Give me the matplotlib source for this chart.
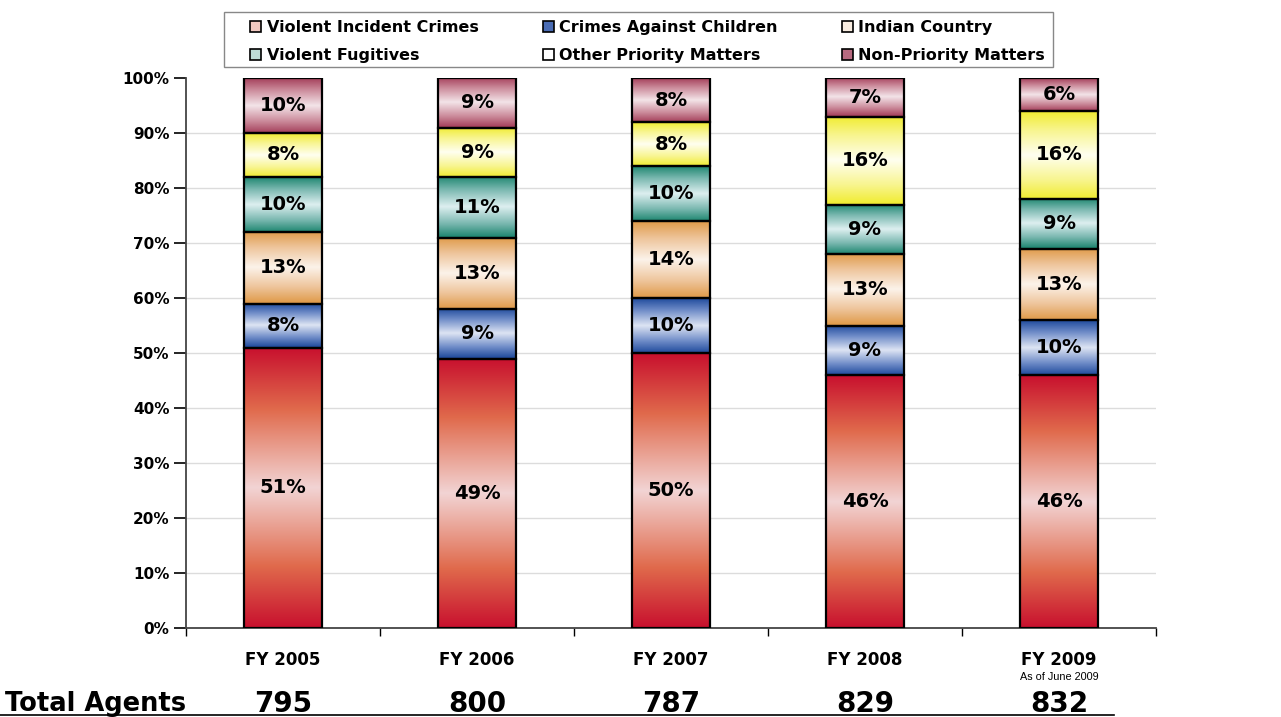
import numpy as np
import matplotlib
matplotlib.use('Agg')
import matplotlib.pyplot as plt
from matplotlib.colors import LinearSegmentedColormap
from matplotlib.patches import Patch, Rectangle
from matplotlib.lines import Line2D
from matplotlib.transforms import blended_transform_factory

years = ['FY 2005', 'FY 2006', 'FY 2007', 'FY 2008', 'FY 2009']
subtitles = ['', '', '', '', 'As of June 2009']
total_agents = [795, 800, 787, 829, 832]
series = ['Violent Incident Crimes', 'Crimes Against Children', 'Indian Country',
          'Violent Fugitives', 'Other Priority Matters', 'Non-Priority Matters']
violent_incident = [51, 49, 50, 46, 46]
crimes_children = [8, 9, 10, 9, 10]
indian_country = [13, 13, 14, 13, 13]
violent_fugitives = [10, 11, 10, 9, 9]
other_priority = [8, 9, 8, 16, 16]
non_priority = [10, 9, 8, 7, 6]
values = [violent_incident, crimes_children, indian_country,
          violent_fugitives, other_priority, non_priority]

# gradient stops: edge, mid, center
grad = [
    ('#c8102e', '#e06a4c', '#f2d4d4'),
    ('#1f4a9c', '#6f8cc8', '#dde4f3'),
    ('#df9a48', '#eec49a', '#fcf3ea'),
    ('#1e8670', '#7ab8b0', '#ddeff0'),
    ('#f0ec30', '#f8f590', '#fffff0'),
    ('#a43f5a', '#cc8c9c', '#f3e4e8'),
]
legend_face = ['#f0c8c0', '#4a6cb4', '#f8ece0', '#bcdcd6', '#ffffff', '#b86a80']

FONT = 'DejaVu Sans'
W, H = 1281, 717
fig = plt.figure(figsize=(W / 100, H / 100), dpi=100)
ax = fig.add_axes([186 / W, 1 - 628 / H, (1156 - 186) / W, (628 - 78) / H])

x = np.arange(len(years))
bw = 0.40
t = np.linspace(0, 1, 256).reshape(-1, 1)
bottoms = np.zeros(len(years))
for i, vals in enumerate(values):
    e, m, c = grad[i]
    cmap = LinearSegmentedColormap.from_list(
        f'g{i}', [(0, e), (0.22, m), (0.5, c), (0.78, m), (1, e)])
    for j in range(len(years)):
        ax.imshow(t, cmap=cmap, aspect='auto', origin='lower',
                  extent=(x[j] - bw / 2, x[j] + bw / 2, bottoms[j], bottoms[j] + vals[j]),
                  zorder=2, interpolation='bilinear')
        ax.text(x[j], bottoms[j] + vals[j] / 2, f'{vals[j]}%', ha='center', va='center',
                fontsize=14, fontweight='bold', family=FONT, zorder=4)
    ax.bar(x, vals, bottom=bottoms, width=bw, fill=False, edgecolor='black',
           linewidth=1.6, zorder=3)
    bottoms += np.array(vals)

ax.set_xlim(-0.5, len(years) - 0.5)
ax.set_ylim(0, 100)
ax.set_yticks(np.arange(0, 101, 10))
ax.set_yticklabels([f'{v}%' for v in range(0, 101, 10)])
for lab in ax.get_yticklabels():
    lab.set_fontweight('bold')
    lab.set_fontsize(11)
    lab.set_family(FONT)
ax.set_xticks(np.arange(-0.5, len(years), 1.0))
ax.set_xticklabels([])
ax.tick_params(axis='y', length=9, width=1.2, pad=3)
ax.tick_params(axis='x', length=6, width=1.0)
for g in range(10, 100, 10):
    ax.axhline(g, color='#dcdcdc', linewidth=1.0, zorder=1)
for s in ['top', 'right']:
    ax.spines[s].set_visible(False)
ax.spines['left'].set_color('#444444')
ax.spines['bottom'].set_color('#444444')
ax.spines['left'].set_linewidth(1.3)
ax.spines['bottom'].set_linewidth(1.3)

tr = blended_transform_factory(ax.transData, fig.transFigure)
for j in range(len(years)):
    ax.text(x[j], 1 - 660 / H, years[j], transform=tr, ha='center', va='center',
            fontsize=12, fontweight='bold', family=FONT)
    if subtitles[j]:
        ax.text(x[j], 1 - 677 / H, subtitles[j], transform=tr, ha='center', va='center',
                fontsize=7.8, family='Liberation Sans')
    ax.text(x[j], 1 - 704 / H, str(total_agents[j]), transform=tr, ha='center',
            va='center', fontsize=20, fontweight='bold', family=FONT)
fig.text(5 / W, 1 - 704 / H, 'Total Agents', ha='left', va='center', fontsize=18.5,
         fontweight='bold', family=FONT)
fig.add_artist(Line2D([0, 0.87], [1 - 715 / H, 1 - 715 / H], transform=fig.transFigure,
                      color='black', linewidth=1.2))

# legend frame
fig.add_artist(Rectangle((224 / W, 1 - 67 / H), (1053 - 224) / W, (67 - 12) / H,
                         transform=fig.transFigure, facecolor='white',
                         edgecolor='#888888', linewidth=1.0, zorder=0))
order = [0, 3, 1, 4, 2, 5]
handles = [Patch(facecolor=legend_face[k], edgecolor='black', linewidth=1.2) for k in order]
labels = [series[k] for k in order]
leg = fig.legend(handles, labels, loc='upper left', ncol=3,
                 bbox_to_anchor=(250 / W, 1 - 20 / H),
                 prop={'family': FONT, 'weight': 'bold', 'size': 11.5},
                 frameon=False, handlelength=0.7, handleheight=0.7, handletextpad=0.35,
                 borderpad=0, labelspacing=0.83, borderaxespad=0, columnspacing=4.0)

fig.savefig('out.png', dpi=100)
